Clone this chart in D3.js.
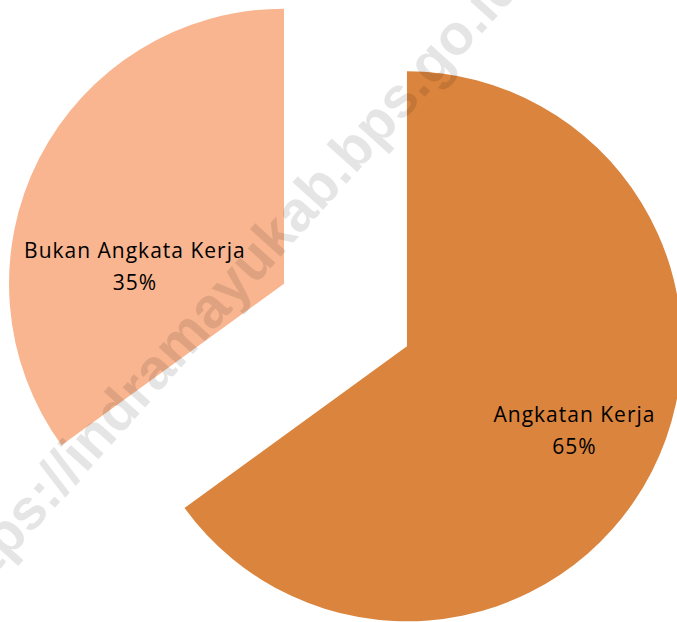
<!DOCTYPE html>
<html>
<head>
<meta charset="utf-8">
<script src="https://cdn.jsdelivr.net/npm/d3@7"></script>
<style>
  html, body { margin: 0; padding: 0; background: #fff; }
  svg { display: block; }
</style>
</head>
<body>
<svg width="677" height="622"></svg>
<script>
// data
const categories = ["Angkatan Kerja", "Bukan Angkata Kerja"];
const values = [65, 35];
const percentLabels = ["65%", "35%"];
const colors = ["#db843d", "#f8b58f"];
const watermarkText = "https://indramayukab.bps.go.id";

const svg = d3.select("svg");
const width = +svg.attr("width");
const height = +svg.attr("height");
const radius = 275;
const explode = 69;
const cx = 345.5, cy = 315;

const data = categories.map((c, i) => ({ key: c, value: values[i], pct: percentLabels[i], color: colors[i] }));

const pie = d3.pie().sort(null).value(d => d.value);
const arc = d3.arc().outerRadius(radius).innerRadius(0);

// label placement per slice (Excel best-fit style): angle from 12 o'clock, distance from slice tip
const labelLayout = {
  "Angkatan Kerja": { r: 188, a: 117 * Math.PI / 180 },
  "Bukan Angkata Kerja": { r: 150, a: 276 * Math.PI / 180 }
};

const g = svg.append("g").attr("transform", `translate(${cx},${cy})`);

const slices = g.selectAll(".slice")
  .data(pie(data))
  .enter().append("g")
  .attr("class", "slice")
  .attr("transform", d => {
    const mid = (d.startAngle + d.endAngle) / 2;
    return `translate(${Math.sin(mid) * explode},${-Math.cos(mid) * explode})`;
  });

slices.append("path")
  .attr("d", arc)
  .attr("fill", d => d.data.color);

const labels = slices.append("text")
  .attr("font-family", "'Open Sans', 'Noto Sans', sans-serif")
  .attr("font-size", 21)
  .attr("letter-spacing", 1)
  .attr("fill", "#000")
  .attr("text-anchor", "middle")
  .attr("transform", d => {
    const l = labelLayout[d.data.key];
    return `translate(${Math.sin(l.a) * l.r},${-Math.cos(l.a) * l.r})`;
  });

labels.append("tspan").attr("x", 0).attr("y", -10).text(d => d.data.key);
labels.append("tspan").attr("x", 0).attr("y", 22).text(d => d.data.pct);

// watermark
svg.append("text")
  .attr("transform", "translate(241,301) rotate(-48)")
  .attr("text-anchor", "middle")
  .attr("font-family", "'Liberation Sans', Arial, sans-serif")
  .attr("font-weight", "bold")
  .attr("font-size", 57)
  .attr("fill", "#000")
  .attr("fill-opacity", 0.1)
  .text(watermarkText);
</script>
</body>
</html>
